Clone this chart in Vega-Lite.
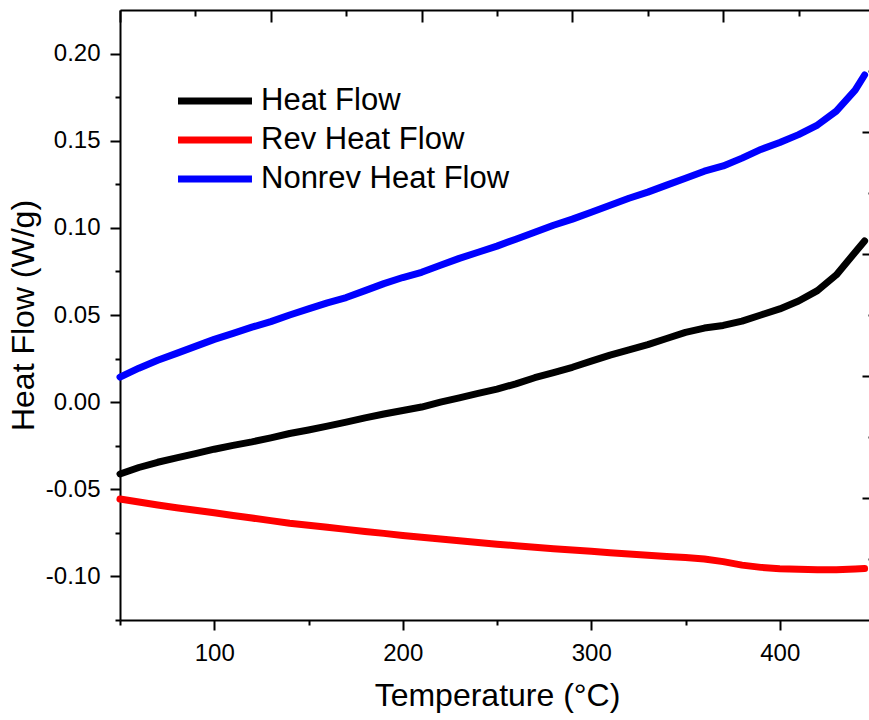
{
  "$schema": "https://vega.github.io/schema/vega-lite/v6.json",
  "autosize": {"type": "none"},
  "padding": {"left": 120, "top": 10, "right": 0, "bottom": 100},
  "width": 749,
  "height": 610,
  "background": "white",
  "config": {
    "view": {"stroke": null},
    "locale": {"number": {"decimal": ".", "thousands": ",", "grouping": [3], "currency": ["", ""], "minus": "-"}},
    "axis": {
      "grid": false,
      "domainColor": "black",
      "domainWidth": 2,
      "tickColor": "black",
      "tickWidth": 2,
      "labelColor": "black",
      "titleColor": "black",
      "labelFont": "Liberation Sans",
      "titleFont": "Liberation Sans",
      "labelFontSize": 24,
      "titleFontSize": 32,
      "titleFontWeight": "normal",
      "zindex": 1
    }
  },
  "data": {
    "values": [
      {"T": 50, "Heat Flow": -0.0412, "Rev Heat Flow": -0.0556, "Nonrev Heat Flow": 0.0144},
      {"T": 60, "Heat Flow": -0.0375, "Rev Heat Flow": -0.0573, "Nonrev Heat Flow": 0.0195},
      {"T": 70, "Heat Flow": -0.0345, "Rev Heat Flow": -0.0590, "Nonrev Heat Flow": 0.0240},
      {"T": 80, "Heat Flow": -0.0320, "Rev Heat Flow": -0.0606, "Nonrev Heat Flow": 0.0280},
      {"T": 90, "Heat Flow": -0.0295, "Rev Heat Flow": -0.0620, "Nonrev Heat Flow": 0.0320},
      {"T": 100, "Heat Flow": -0.0270, "Rev Heat Flow": -0.0635, "Nonrev Heat Flow": 0.0360},
      {"T": 110, "Heat Flow": -0.0248, "Rev Heat Flow": -0.0650, "Nonrev Heat Flow": 0.0395},
      {"T": 120, "Heat Flow": -0.0228, "Rev Heat Flow": -0.0665, "Nonrev Heat Flow": 0.0430},
      {"T": 130, "Heat Flow": -0.0205, "Rev Heat Flow": -0.0680, "Nonrev Heat Flow": 0.0462},
      {"T": 140, "Heat Flow": -0.0180, "Rev Heat Flow": -0.0695, "Nonrev Heat Flow": 0.0500},
      {"T": 150, "Heat Flow": -0.0160, "Rev Heat Flow": -0.0706, "Nonrev Heat Flow": 0.0535},
      {"T": 160, "Heat Flow": -0.0138, "Rev Heat Flow": -0.0718, "Nonrev Heat Flow": 0.0570},
      {"T": 170, "Heat Flow": -0.0115, "Rev Heat Flow": -0.0730, "Nonrev Heat Flow": 0.0600},
      {"T": 180, "Heat Flow": -0.0090, "Rev Heat Flow": -0.0742, "Nonrev Heat Flow": 0.0640},
      {"T": 190, "Heat Flow": -0.0068, "Rev Heat Flow": -0.0753, "Nonrev Heat Flow": 0.0680},
      {"T": 200, "Heat Flow": -0.0048, "Rev Heat Flow": -0.0765, "Nonrev Heat Flow": 0.0715},
      {"T": 210, "Heat Flow": -0.0028, "Rev Heat Flow": -0.0775, "Nonrev Heat Flow": 0.0745},
      {"T": 220, "Heat Flow": 0.0000, "Rev Heat Flow": -0.0785, "Nonrev Heat Flow": 0.0785},
      {"T": 230, "Heat Flow": 0.0025, "Rev Heat Flow": -0.0795, "Nonrev Heat Flow": 0.0825},
      {"T": 240, "Heat Flow": 0.0050, "Rev Heat Flow": -0.0805, "Nonrev Heat Flow": 0.0860},
      {"T": 250, "Heat Flow": 0.0075, "Rev Heat Flow": -0.0815, "Nonrev Heat Flow": 0.0895},
      {"T": 260, "Heat Flow": 0.0105, "Rev Heat Flow": -0.0824, "Nonrev Heat Flow": 0.0935},
      {"T": 270, "Heat Flow": 0.0140, "Rev Heat Flow": -0.0833, "Nonrev Heat Flow": 0.0975},
      {"T": 280, "Heat Flow": 0.0170, "Rev Heat Flow": -0.0841, "Nonrev Heat Flow": 0.1015},
      {"T": 290, "Heat Flow": 0.0200, "Rev Heat Flow": -0.0849, "Nonrev Heat Flow": 0.1050},
      {"T": 300, "Heat Flow": 0.0235, "Rev Heat Flow": -0.0856, "Nonrev Heat Flow": 0.1090},
      {"T": 310, "Heat Flow": 0.0270, "Rev Heat Flow": -0.0864, "Nonrev Heat Flow": 0.1130},
      {"T": 320, "Heat Flow": 0.0300, "Rev Heat Flow": -0.0871, "Nonrev Heat Flow": 0.1170},
      {"T": 330, "Heat Flow": 0.0330, "Rev Heat Flow": -0.0878, "Nonrev Heat Flow": 0.1205},
      {"T": 340, "Heat Flow": 0.0365, "Rev Heat Flow": -0.0885, "Nonrev Heat Flow": 0.1245},
      {"T": 350, "Heat Flow": 0.0400, "Rev Heat Flow": -0.0891, "Nonrev Heat Flow": 0.1285},
      {"T": 360, "Heat Flow": 0.0425, "Rev Heat Flow": -0.0900, "Nonrev Heat Flow": 0.1325},
      {"T": 370, "Heat Flow": 0.0440, "Rev Heat Flow": -0.0915, "Nonrev Heat Flow": 0.1355},
      {"T": 380, "Heat Flow": 0.0465, "Rev Heat Flow": -0.0935, "Nonrev Heat Flow": 0.1400},
      {"T": 390, "Heat Flow": 0.0500, "Rev Heat Flow": -0.0948, "Nonrev Heat Flow": 0.1450},
      {"T": 400, "Heat Flow": 0.0535, "Rev Heat Flow": -0.0956, "Nonrev Heat Flow": 0.1490},
      {"T": 410, "Heat Flow": 0.0580, "Rev Heat Flow": -0.0959, "Nonrev Heat Flow": 0.1535},
      {"T": 420, "Heat Flow": 0.0640, "Rev Heat Flow": -0.0962, "Nonrev Heat Flow": 0.1590},
      {"T": 430, "Heat Flow": 0.0730, "Rev Heat Flow": -0.0962, "Nonrev Heat Flow": 0.1670},
      {"T": 440, "Heat Flow": 0.0860, "Rev Heat Flow": -0.0958, "Nonrev Heat Flow": 0.1790},
      {"T": 445, "Heat Flow": 0.0925, "Rev Heat Flow": -0.0955, "Nonrev Heat Flow": 0.1877}
    ]
  },
  "transform": [
    {"fold": ["Heat Flow", "Rev Heat Flow", "Nonrev Heat Flow"], "as": ["series", "value"]}
  ],
  "layer": [
    {
      "mark": {"type": "line", "strokeWidth": 7, "strokeCap": "round", "strokeJoin": "round"},
      "encoding": {
        "x": {
          "field": "T", "type": "quantitative",
          "scale": {"domain": [50, 450], "range": [0, 754], "nice": false, "zero": false},
          "axis": {"orient": "bottom", "values": [100, 200, 300, 400], "tickSize": 10, "labelPadding": 11, "title": "Temperature (°C)", "titlePadding": 15}
        },
        "y": {
          "field": "value", "type": "quantitative",
          "scale": {"domain": [-0.125, 0.225], "nice": false, "zero": false},
          "axis": {"orient": "left", "values": [-0.1, -0.05, 0, 0.05, 0.1, 0.15, 0.2], "format": ".2f", "tickSize": 10, "labelPadding": 10, "title": "Heat Flow (W/g)", "titlePadding": 5}
        },
        "color": {
          "field": "series", "type": "nominal",
          "scale": {"domain": ["Heat Flow", "Rev Heat Flow", "Nonrev Heat Flow"], "range": ["#000000", "#ff0000", "#0000ff"]},
          "legend": {
            "orient": "none", "legendX": 79.5, "legendY": 75.5, "title": null, "padding": 0,
            "symbolType": "M-4,0H4", "symbolSize": 342, "symbolStrokeWidth": 7,
            "labelFont": "Liberation Sans", "labelFontSize": 31, "labelColor": "black",
            "labelLimit": 0, "labelOffset": 30.5, "rowPadding": 7
          }
        }
      }
    },
    {
      "mark": {"type": "line", "opacity": 0},
      "encoding": {
        "x": {"field": "T", "type": "quantitative", "axis": {"orient": "bottom", "values": [50, 150, 250, 350, 450], "tickSize": 5, "labels": false, "domain": false, "title": null}},
        "y": {"field": "value", "type": "quantitative", "axis": {"orient": "left", "values": [-0.125, -0.075, -0.025, 0.025, 0.075, 0.125, 0.175], "tickSize": 5, "labels": false, "domain": false, "title": null}}
      }
    },
    {
      "mark": {"type": "line", "opacity": 0},
      "encoding": {
        "x": {"field": "T", "type": "quantitative", "axis": {"orient": "top", "values": [50, 130, 210, 290, 370, 450], "offset": -12, "tickSize": 12, "labels": false, "domain": false, "title": null}},
        "y": {"field": "value", "type": "quantitative", "axis": {"orient": "right", "values": [-0.055, 0.015, 0.085, 0.155], "offset": -7, "tickSize": 12, "labels": false, "domain": false, "title": null}}
      }
    },
    {
      "mark": {"type": "line", "opacity": 0},
      "encoding": {
        "x": {"field": "T", "type": "quantitative", "axis": {"orient": "top", "values": [90, 170, 250, 330, 410], "offset": -6, "tickSize": 6, "labels": false, "domain": false, "title": null}},
        "y": {"field": "value", "type": "quantitative", "axis": {"orient": "right", "values": [-0.09, -0.02, 0.05, 0.12, 0.19], "offset": -1, "tickSize": 6, "labels": false, "domain": false, "title": null}}
      }
    },
    {
      "mark": {"type": "line", "opacity": 0},
      "encoding": {
        "x": {"field": "T", "type": "quantitative", "axis": {"orient": "top", "ticks": false, "labels": false, "domain": true, "title": null}},
        "y": {"field": "value", "type": "quantitative", "axis": null}
      }
    }
  ],
  "resolve": {"axis": {"x": "independent", "y": "independent"}}
}
